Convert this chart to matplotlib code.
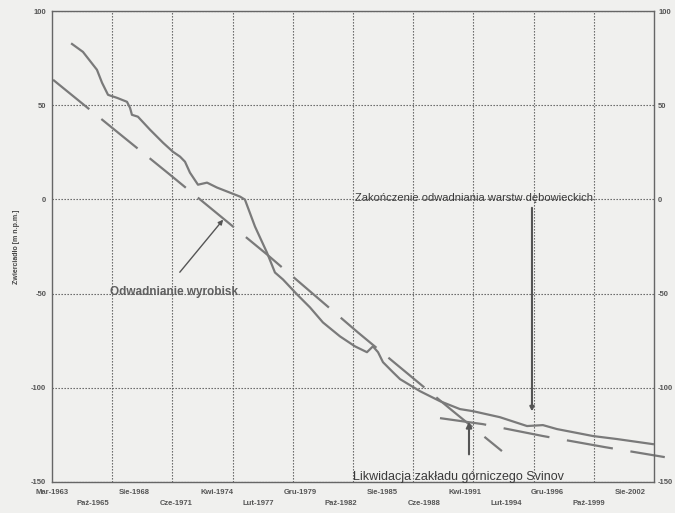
import matplotlib
matplotlib.use("Agg")
import matplotlib.pyplot as plt
import numpy as np

plt.rcParams['font.family'] = ['Liberation Sans', 'DejaVu Sans']

# ---- data (decimal year, water table level m a.s.l.) ----
obs_year = [1964.54, 1965.29, 1966.25, 1966.60, 1967.01, 1967.63, 1968.31, 1968.52, 1968.65,
            1969.06, 1969.89, 1970.78, 1971.46, 1971.95, 1972.29, 1972.63, 1973.18, 1973.80,
            1974.48, 1975.37, 1976.06, 1976.40, 1977.09, 1977.91, 1978.46, 1979.01, 1979.97,
            1980.86, 1981.75, 1982.92, 1983.95, 1984.77, 1985.18, 1985.53, 1985.87, 1986.55,
            1987.04, 1988.41, 1989.78, 1991.15, 1992.04, 1993.89, 1995.75, 1996.84, 1997.80,
            2000.27, 2001.92, 2004.38]
obs_level = [82.5, 78.3, 68.8, 61.9, 55.5, 53.9, 51.8, 48.6, 44.9,
             43.9, 37.0, 30.1, 25.3, 22.7, 20.0, 14.2, 7.8, 8.9,
             6.3, 3.6, 1.5, -0.1, -14.4, -28.2, -38.8, -42.5, -50.4,
             -57.3, -65.3, -72.7, -78.0, -81.1, -78.0, -81.1, -86.4, -91.7,
             -95.4, -101.8, -107.1, -111.3, -112.4, -115.6, -120.3, -119.8, -121.9,
             -125.6, -127.2, -129.9]

trend1_year = [1963.24, 1968.04, 1971.26, 1977.91, 1984.15, 1990.67, 1994.03]
trend1_level = [63.5, 33.3, 13.1, -29.2, -70.6, -112.4, -133.6]

trend2_year = [1989.78, 1992.73, 1996.84, 2001.10, 2005.20]
trend2_level = [-116.1, -119.3, -125.6, -131.5, -136.8]

tick_labels = ['Mar-1963', 'Paź-1965', 'Sie-1968', 'Cze-1971', 'Kwi-1974', 'Lut-1977',
               'Gru-1979', 'Paź-1982', 'Sie-1985', 'Cze-1988', 'Kwi-1991', 'Lut-1994',
               'Gru-1996', 'Paź-1999', 'Sie-2002']
y_ticks = [100, 50, 0, -50, -100, -150]

# ---- figure ----
bg = '#f0f0ee'
fig = plt.figure(figsize=(6.75, 5.13), dpi=100, facecolor=bg)
ax = fig.add_axes([52/675, 1-482/513, (654-52)/675, (482-11)/513])
ax.set_facecolor(bg)

x0 = 1963.167
xmax = 2004.46
ax.set_xlim(x0, xmax)
ax.set_ylim(-150, 100)

tick_pos = [x0 + k * 34/12 for k in range(len(tick_labels))]
ax.set_xticks(tick_pos)
ax.set_xticklabels([lab if k % 2 == 0 else '\n' + lab for k, lab in enumerate(tick_labels)],
                   fontsize=5.5, color='#555555', fontweight='bold', linespacing=1.75)
grid_x = [x0 + j * 4.13 for j in range(1, 10)]
ax.set_xticks(grid_x, minor=True)
ax.tick_params(axis='x', which='both', length=0, pad=5)

ax.set_yticks(y_ticks)
ax.set_yticklabels([str(v) for v in y_ticks], fontsize=5.5, color='#555555', fontweight='bold')
ax.tick_params(axis='y', length=0, pad=4)

ax.grid(True, axis='y', which='major', linestyle=(0, (1.2, 1.5)), color='#555555', linewidth=0.8)
ax.grid(True, axis='x', which='minor', linestyle=(0, (1.2, 1.5)), color='#555555', linewidth=0.8)
ax.grid(False, axis='x', which='major')

for s in ax.spines.values():
    s.set_color('#666666')
    s.set_linewidth(1.0)

ax2 = ax.twinx()
ax2.set_ylim(-150, 100)
ax2.set_yticks(y_ticks)
ax2.set_yticklabels([str(v) for v in y_ticks], fontsize=5.5, color='#555555', fontweight='bold')
ax2.tick_params(axis='y', length=0, pad=3)
for s in ax2.spines.values():
    s.set_visible(False)

line_col = '#7a7a7a'
ax.plot(obs_year, obs_level, color=line_col, linewidth=1.6, solid_joinstyle='round')
ax.plot(trend1_year, trend1_level, color=line_col, linewidth=1.6,
        linestyle=(0, (21, 7)))
ax.plot(trend2_year, trend2_level, color=line_col, linewidth=1.6,
        linestyle=(0, (21, 8)), clip_on=False)

ax.set_ylabel('Zwierciadło [m n.p.m.]', fontsize=5, color='#444444', fontweight='bold', labelpad=8)

# annotations
arrow_kw = dict(arrowstyle='-|>', color='#555555', lw=1.0, mutation_scale=7)
ax.annotate('', xy=(1975.03, -9.6), xytext=(1971.81, -39.8), arrowprops=arrow_kw)
ax.text(1967.14, -49, 'Odwadnianie wyrobisk', fontsize=8.5, color='#606060',
        fontweight='bold', va='center', ha='left')

ax.annotate('', xy=(1996.09, -114.0), xytext=(1996.09, -3.0),
            arrowprops=dict(arrowstyle='-|>', color='#555555', lw=1.5, mutation_scale=6))
ax.text(1983.95, 1, 'Zakończenie odwadniania warstw dębowieckich', fontsize=8,
        color='#3a3a3a', va='center', ha='left')

ax.annotate('', xy=(1991.77, -116.6), xytext=(1991.77, -136.8),
            arrowprops=dict(arrowstyle='-|>', color='#555555', lw=1.5, mutation_scale=8))
ax.text(1983.81, -147.2, 'Likwidacja zakładu górniczego Svinov', fontsize=9,
        color='#3a3a3a', va='center', ha='left', clip_on=False)

fig.savefig('out.png', dpi=100, facecolor=bg)
